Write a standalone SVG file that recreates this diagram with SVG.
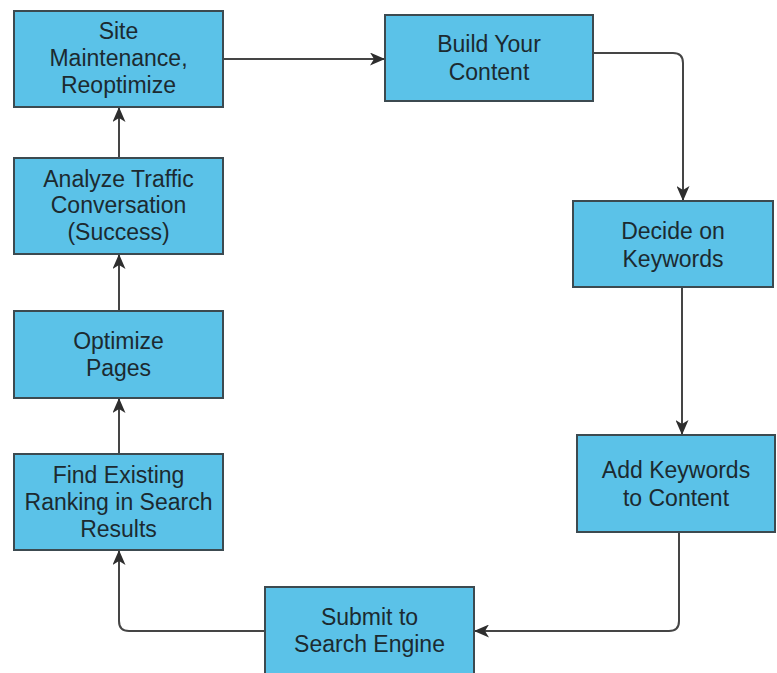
<svg xmlns="http://www.w3.org/2000/svg" width="777" height="673" viewBox="0 0 777 673">
<defs>
<style>
.box{fill:#5BC2E8;stroke:#3c4a50;stroke-width:2}
.t{font-family:"Liberation Sans",Arial,sans-serif;font-size:23px;fill:#1c2a30;text-anchor:middle}
.c{fill:none;stroke:#454545;stroke-width:2}
</style>
<marker id="ah" viewBox="0 0 15 13" markerWidth="15" markerHeight="13" refX="14" refY="6.5" orient="auto" markerUnits="userSpaceOnUse">
<path d="M0,0 L15,6.5 L0,13 L4,6.5 z" fill="#2e2e2e"/>
</marker>
</defs>
<rect width="777" height="673" fill="#fff"/>
<g id="connectors">
<path class="c" d="M223,59 H384" marker-end="url(#ah)"/>
<path class="c" d="M593,53 H673 Q683,53 683,63 V200" marker-end="url(#ah)"/>
<path class="c" d="M682,287 V434" marker-end="url(#ah)"/>
<path class="c" d="M679,532 V621 Q679,631 669,631 H475" marker-end="url(#ah)"/>
<path class="c" d="M265,631 H129 Q119,631 119,621 V551" marker-end="url(#ah)"/>
<path class="c" d="M119,454 V399" marker-end="url(#ah)"/>
<path class="c" d="M119,311 V255" marker-end="url(#ah)"/>
<path class="c" d="M119,158 V108" marker-end="url(#ah)"/>
</g>
<g id="site">
<rect class="box" x="14" y="11" width="209" height="96"/>
<text class="t" x="118.5" y="39">Site</text>
<text class="t" x="118.5" y="66">Maintenance,</text>
<text class="t" x="118.5" y="93">Reoptimize</text>
</g>
<g id="build">
<rect class="box" x="385" y="15" width="208" height="86"/>
<text class="t" x="489" y="52">Build Your</text>
<text class="t" x="489" y="80">Content</text>
</g>
<g id="decide">
<rect class="box" x="573" y="201" width="200" height="86"/>
<text class="t" x="673" y="239">Decide on</text>
<text class="t" x="673" y="267">Keywords</text>
</g>
<g id="add">
<rect class="box" x="577" y="435" width="198" height="97"/>
<text class="t" x="676" y="478">Add Keywords</text>
<text class="t" x="676" y="506">to Content</text>
</g>
<g id="submit">
<rect class="box" x="265" y="587" width="209" height="100"/>
<text class="t" x="369.5" y="625">Submit to</text>
<text class="t" x="369.5" y="652">Search Engine</text>
</g>
<g id="find">
<rect class="box" x="14" y="454" width="209" height="96"/>
<text class="t" x="118.5" y="483">Find Existing</text>
<text class="t" x="118.5" y="510">Ranking in Search</text>
<text class="t" x="118.5" y="537">Results</text>
</g>
<g id="optimize">
<rect class="box" x="14" y="311" width="209" height="87"/>
<text class="t" x="118.5" y="349">Optimize</text>
<text class="t" x="118.5" y="376">Pages</text>
</g>
<g id="analyze">
<rect class="box" x="14" y="158" width="209" height="96"/>
<text class="t" x="118.5" y="187">Analyze Traffic</text>
<text class="t" x="118.5" y="213">Conversation</text>
<text class="t" x="118.5" y="240">(Success)</text>
</g>
</svg>
